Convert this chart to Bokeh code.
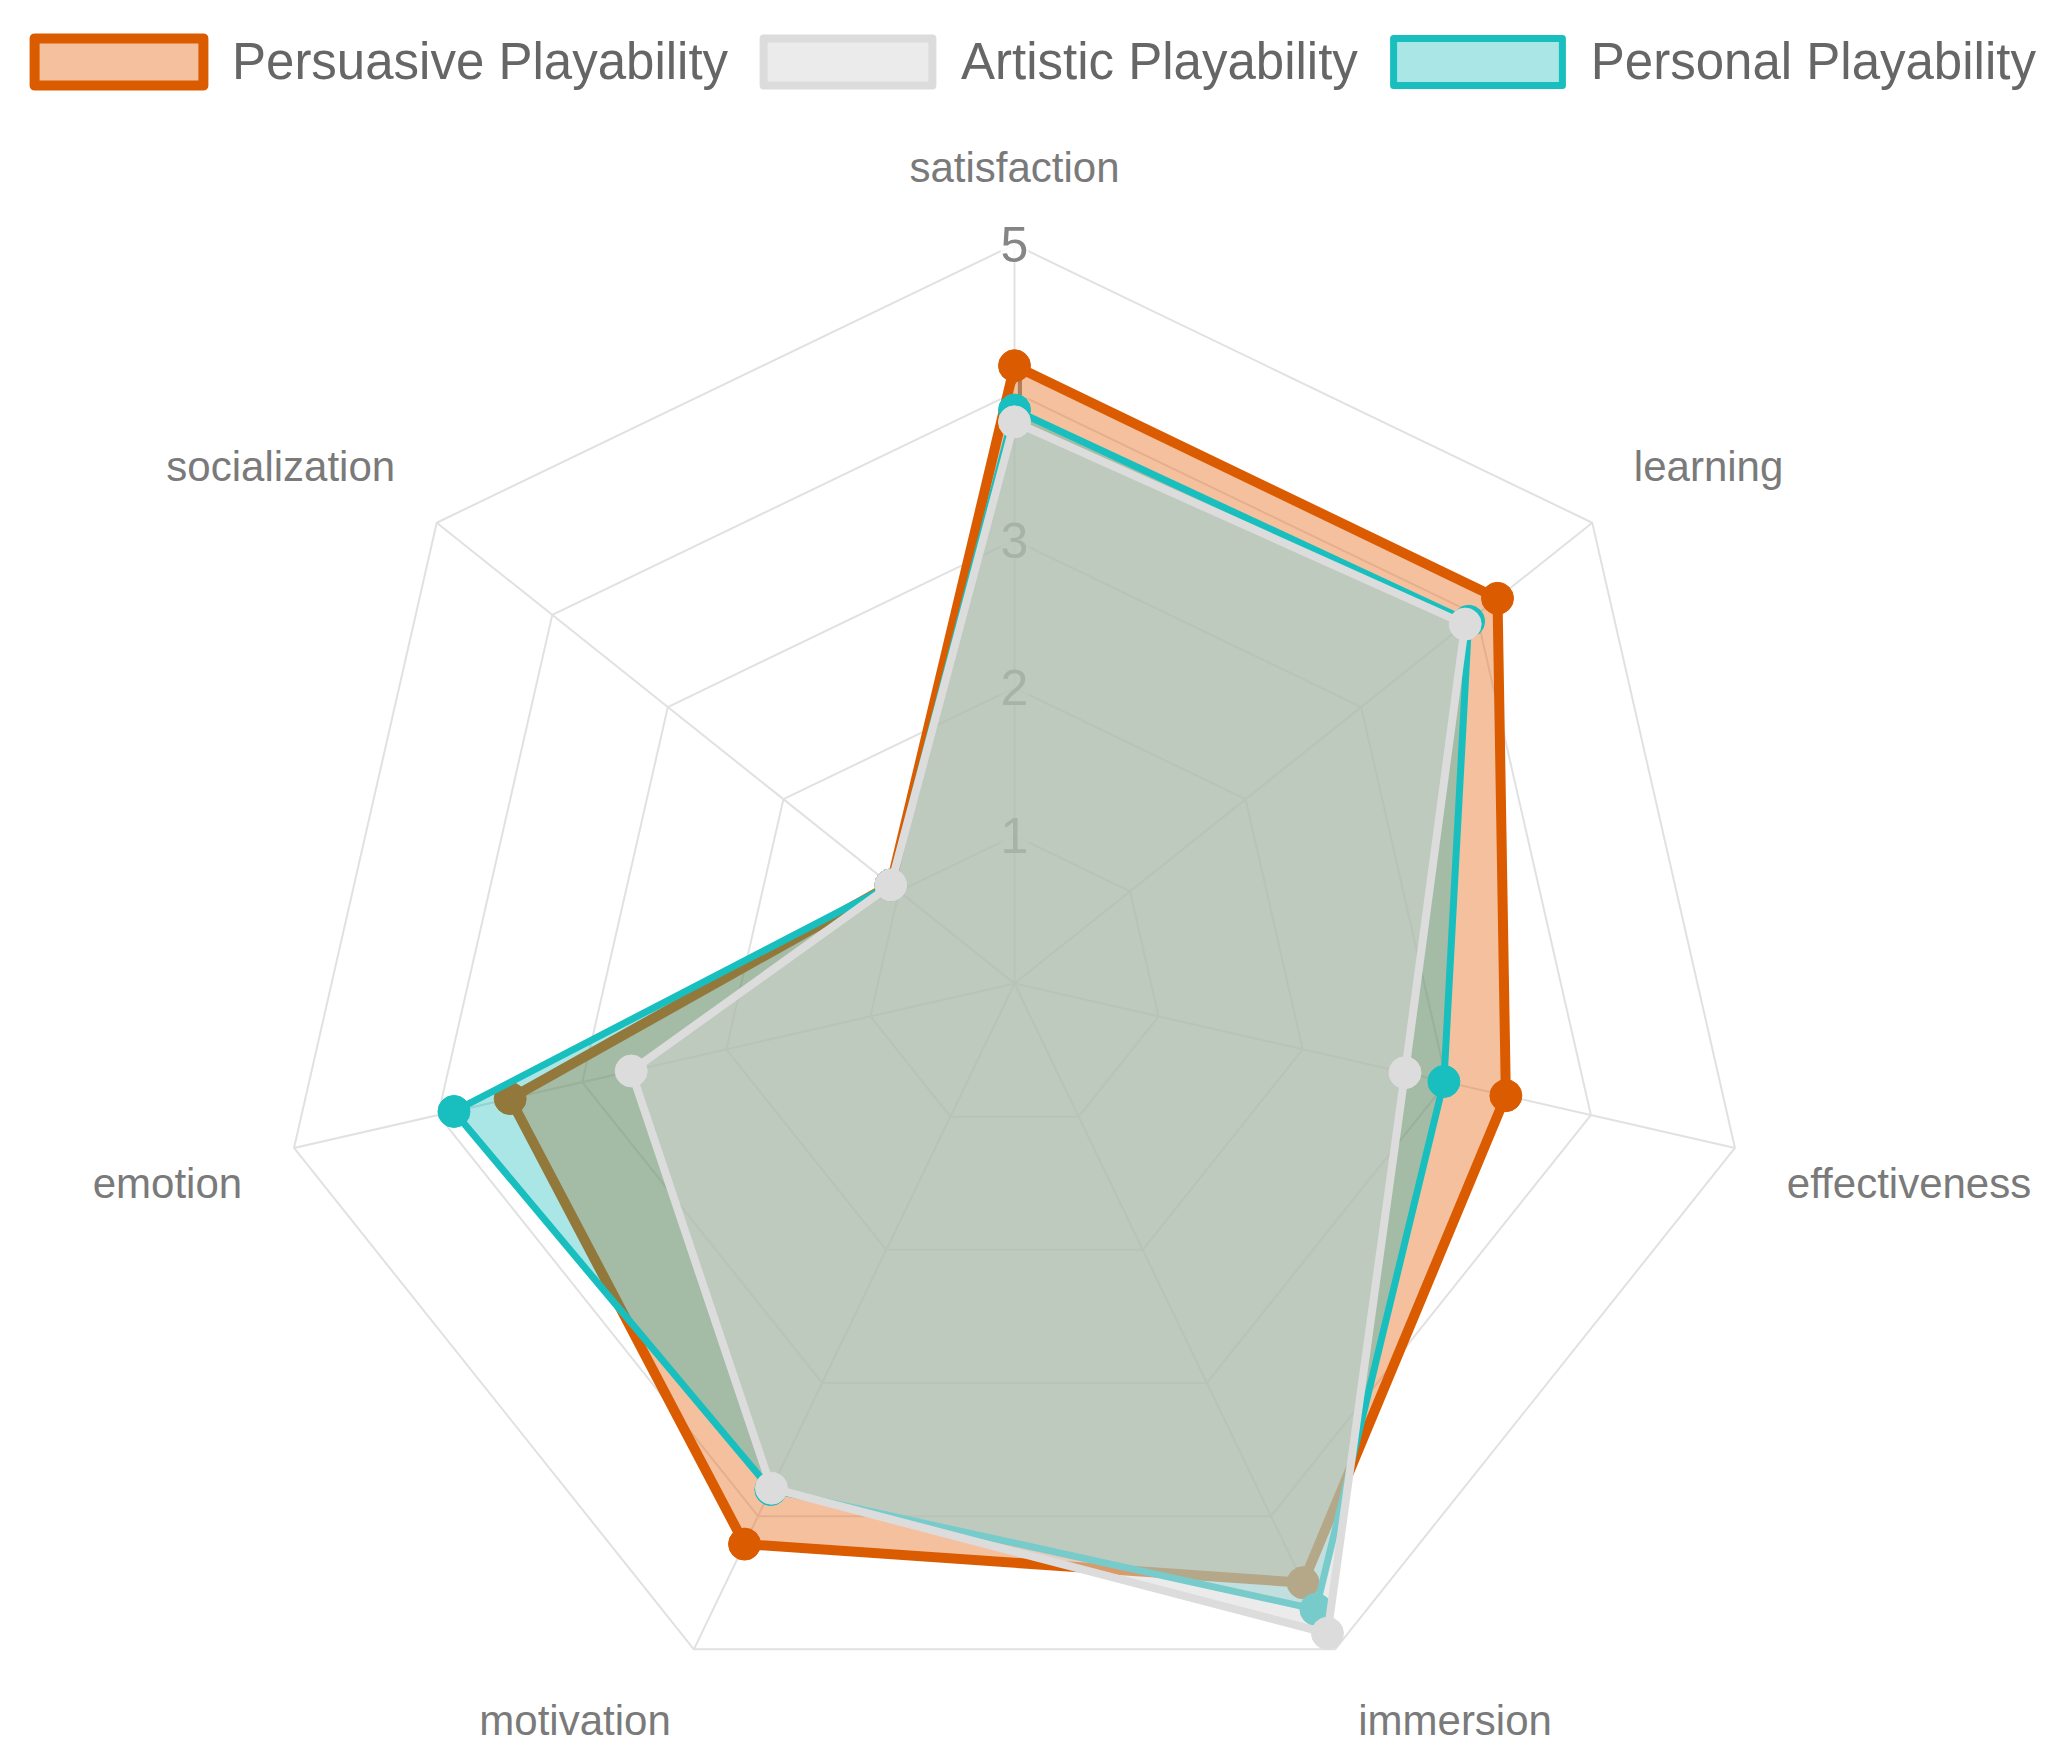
import numpy as np
from bokeh.plotting import figure
from bokeh.models import Range1d, Legend, LegendItem
from bokeh.core.properties import value
from bokeh.embed import file_html
from bokeh.resources import INLINE

# ---------------- data ----------------
categories = ["satisfaction", "learning", "effectiveness", "immersion",
              "motivation", "emotion", "socialization"]
persuasive = [4.18, 4.18, 3.41, 4.50, 4.21, 3.50, 1.07]
artistic = [3.80, 3.90, 2.71, 4.88, 3.79, 2.66, 1.07]
personal = [3.88, 3.93, 2.98, 4.70, 3.80, 3.89, 1.07]
series_names = ["Persuasive Playability", "Artistic Playability", "Personal Playability"]
ticks = [1, 2, 3, 4, 5]
r_max = 5

# ---------------- styles ----------------
line_colors = {"Persuasive Playability": "#db5c00",
               "Artistic Playability": "#dcdcdc",
               "Personal Playability": "#19bfbf"}
fill_colors = {"Persuasive Playability": ("#e87328", 0.45),
               "Artistic Playability": ("#d8d8d8", 0.50),
               "Personal Playability": ("#00b4b4", 0.33)}
line_widths = {"Persuasive Playability": 10,
               "Artistic Playability": 8,
               "Personal Playability": 7}
FONT = "Liberation Sans"

W, H = 2040, 1746
px_per_unit = 147.8
cx_px, cy_px = 1014, 983

p = figure(width=W, height=H,
           x_range=Range1d(-cx_px / px_per_unit, (W - cx_px) / px_per_unit),
           y_range=Range1d(-(H - cy_px) / px_per_unit, cy_px / px_per_unit),
           x_axis_type=None, y_axis_type=None,
           output_backend="svg", toolbar_location=None, min_border=0)
p.grid.visible = False
p.outline_line_color = None
p.background_fill_color = "white"

n = len(categories)
theta = np.pi / 2 - 2 * np.pi * np.arange(n) / n
cos_t, sin_t = np.cos(theta), np.sin(theta)

# grid rings
ring_xs = [list(t * np.append(cos_t, cos_t[0])) for t in ticks]
ring_ys = [list(t * np.append(sin_t, sin_t[0])) for t in ticks]
p.multi_line(ring_xs, ring_ys, line_color="#e1e1e1", line_width=2)
# spokes
spoke_xs = [[0, r_max * c] for c in cos_t]
spoke_ys = [[0, r_max * s] for s in sin_t]
p.multi_line(spoke_xs, spoke_ys, line_color="#e1e1e1", line_width=2)

# tick labels
p.text(x=[0] * len(ticks), y=ticks, text=[str(t) for t in ticks],
       text_align="center", text_baseline="middle",
       text_font=value(FONT), text_font_size="50px", text_color="#858585",
       background_fill_color="white", background_fill_alpha=0.8)

# series (drawn bottom to top)
renderers = {}
draw_order = ["Persuasive Playability", "Personal Playability", "Artistic Playability"]
data_map = dict(zip(series_names, [persuasive, artistic, personal]))
for name in draw_order:
    v = np.array(data_map[name])
    xs = v * cos_t
    ys = v * sin_t
    fc, fa = fill_colors[name]
    r = p.patch(list(xs), list(ys), fill_color=fc, fill_alpha=fa,
                line_color=line_colors[name], line_width=line_widths[name],
                line_join="round")
    p.scatter(list(xs), list(ys), size=32, marker="circle",
              fill_color=line_colors[name], line_color=line_colors[name])
    renderers[name] = r

# point labels
lab_r = r_max + 0.36
aligns = ["center" if abs(c) < 1e-6 else ("left" if c > 0 else "right") for c in cos_t]
bases = ["bottom" if s > 0 else "top" for s in sin_t]
for i, cat in enumerate(categories):
    p.text(x=[lab_r * cos_t[i]], y=[lab_r * sin_t[i]], text=[cat],
           text_align=aligns[i], text_baseline=bases[i],
           text_font=value(FONT), text_font_size="42px", text_color="#7a7a7a")

legend = Legend(items=[LegendItem(label=nm, renderers=[renderers[nm]]) for nm in series_names],
                orientation="horizontal", location=(13, H - 31 - 60),
                glyph_width=211, glyph_height=59, label_standoff=8, spacing=14,
                label_text_font=FONT, label_text_font_size="51px",
                label_text_color="#666666", padding=0, margin=0,
                border_line_alpha=0, background_fill_alpha=0)
p.add_layout(legend)

open("out.html", "w").write(file_html(p, INLINE))
